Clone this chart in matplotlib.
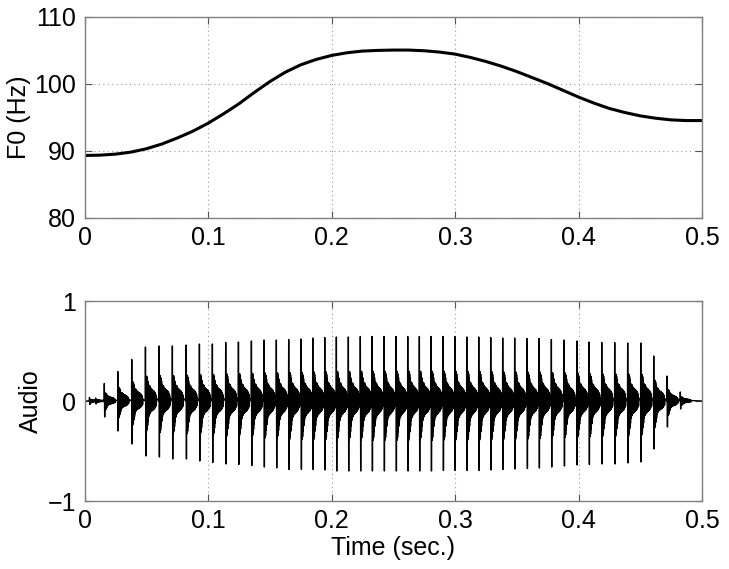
import numpy as np
import matplotlib
matplotlib.use("Agg")
import matplotlib.pyplot as plt

# F0 contour
f0_time = [0.0, 0.0125, 0.025, 0.0375, 0.05, 0.0625, 0.075, 0.0875, 0.1,
           0.1125, 0.125, 0.1375, 0.15, 0.1625, 0.175, 0.1875, 0.2, 0.2125,
           0.225, 0.2375, 0.25, 0.2625, 0.275, 0.2875, 0.3, 0.3125, 0.325,
           0.3375, 0.35, 0.3625, 0.375, 0.3875, 0.4, 0.4125, 0.425, 0.4375,
           0.45, 0.4625, 0.475, 0.4875, 0.5]
f0_hz = [89.3, 89.35, 89.5, 89.8, 90.3, 91.0, 91.9, 92.9, 94.1, 95.5, 97.0,
         98.7, 100.3, 101.7, 102.8, 103.6, 104.2, 104.6, 104.85, 104.95, 105.0,
         105.0, 104.9, 104.7, 104.4, 103.9, 103.3, 102.6, 101.8, 100.9, 100.0,
         99.0, 98.0, 97.1, 96.3, 95.7, 95.2, 94.85, 94.6, 94.5, 94.5]

# glottal pulses in the audio panel: time, positive peak, negative peak
pulse_time = [0.0040, 0.0090, 0.0160, 0.0269, 0.0382, 0.0493, 0.0603, 0.0711,
              0.0822, 0.0930, 0.1035, 0.1143, 0.1246, 0.1351, 0.1453, 0.1553,
              0.1653, 0.1753, 0.1848, 0.1945, 0.2039, 0.2136, 0.2233, 0.2328,
              0.2425, 0.2522, 0.2617, 0.2711, 0.2806, 0.2903, 0.2998, 0.3095,
              0.3192, 0.3289, 0.3386, 0.3483, 0.3583, 0.3680, 0.3780, 0.3883,
              0.3986, 0.4085, 0.4188, 0.4293, 0.4398, 0.4504, 0.4609, 0.4717,
              0.4824]
pulse_pos = [0.035, 0.03, 0.175, 0.295, 0.415, 0.54, 0.55, 0.55, 0.56, 0.57,
             0.57, 0.585, 0.59, 0.60, 0.61, 0.61, 0.615, 0.62, 0.63, 0.635,
             0.64, 0.64, 0.645, 0.645, 0.645, 0.645, 0.645, 0.645, 0.645, 0.645,
             0.645, 0.64, 0.64, 0.635, 0.63, 0.63, 0.625, 0.625, 0.615, 0.61,
             0.60, 0.59, 0.585, 0.585, 0.58, 0.58, 0.45, 0.25, 0.09]
pulse_neg = [-0.035, -0.03, -0.16, -0.30, -0.43, -0.55, -0.56, -0.58, -0.58,
             -0.60, -0.615, -0.63, -0.635, -0.645, -0.66, -0.67, -0.685, -0.685,
             -0.685, -0.69, -0.70, -0.70, -0.70, -0.70, -0.70, -0.70, -0.70,
             -0.70, -0.70, -0.695, -0.695, -0.695, -0.695, -0.69, -0.685, -0.68,
             -0.675, -0.67, -0.66, -0.65, -0.64, -0.635, -0.63, -0.63, -0.62,
             -0.61, -0.48, -0.26, -0.08]

# shape of one pulse period (ms after pulse, fraction of the peak; sign picks peak)
shape_ms = [-0.15, 0.0, 0.3, 0.55, 0.8, 1.05, 1.3, 1.55, 1.8, 2.05, 2.3, 2.55,
            2.8, 3.05, 3.3, 3.55, 3.8, 4.05, 4.3, 4.55, 4.8, 5.05, 5.3, 5.55,
            5.8, 6.05, 6.3, 6.55, 6.8, 7.05, 7.3, 7.55, 7.8, 8.05, 8.3, 8.55,
            8.8, 9.05]
shape_val = [0.0, 1.0, -1.0, 0.38, -0.56, 0.46, -0.52, 0.42, -0.44, 0.36, -0.36,
             0.30, -0.28, 0.27, -0.24, 0.28, -0.22, 0.25, -0.20, 0.23, -0.19,
             0.22, -0.18, 0.21, -0.17, 0.20, -0.16, 0.19, -0.15, 0.18, -0.14,
             0.16, -0.12, 0.14, -0.10, 0.11, -0.08, 0.05]

font = "Liberation Sans"
plt.rcParams["font.family"] = [font, "DejaVu Sans"]
plt.rcParams["font.size"] = 18

fig = plt.figure(figsize=(7.29, 5.69), dpi=100)
ax1 = fig.add_axes([0.116, 0.617, 0.847, 0.354])
ax2 = fig.add_axes([0.116, 0.1195, 0.847, 0.3515])

# top: F0
ax1.plot(f0_time, f0_hz, color="black", linewidth=2.2, solid_capstyle="butt")
ax1.set_xlim(0, 0.5)
ax1.set_ylim(80, 110)
ax1.set_yticks([80, 90, 100, 110])
ax1.set_ylabel("F0 (Hz)")
ax1.yaxis.set_label_coords(-0.087, 0.5)

# bottom: audio waveform built pulse by pulse
wave_t = [0.0]
wave_y = [0.0]
for t0, p, n in zip(pulse_time, pulse_pos, pulse_neg):
    for ms, v in zip(shape_ms, shape_val):
        wave_t.append(t0 + ms / 1000.0)
        wave_y.append(v * p if v >= 0 else -v * n)
wave_t.append(0.5)
wave_y.append(0.0)
ax2.plot(wave_t, wave_y, color="black", linewidth=1.0)
ax2.set_xlim(0, 0.5)
ax2.set_ylim(-1, 1)
ax2.set_yticks([-1, 0, 1])
ax2.set_ylabel("Audio")
ax2.yaxis.set_label_coords(-0.068, 0.5)
ax2.set_xlabel("Time (sec.)", labelpad=2)

for ax in (ax1, ax2):
    ax.set_xticks([0, 0.1, 0.2, 0.3, 0.4, 0.5])
    ax.set_xticklabels(["0", "0.1", "0.2", "0.3", "0.4", "0.5"])
    ax.grid(True, linestyle=(0, (1, 3)), color="#9a9a9a", linewidth=0.8)
    ax.tick_params(direction="in", length=5, top=True, right=True,
                   color="#555555", pad=6)
    for s in ax.spines.values():
        s.set_color("#808080")
        s.set_linewidth(1.0)
ax2.yaxis.grid(False)

fig.savefig("out.png", dpi=100)
